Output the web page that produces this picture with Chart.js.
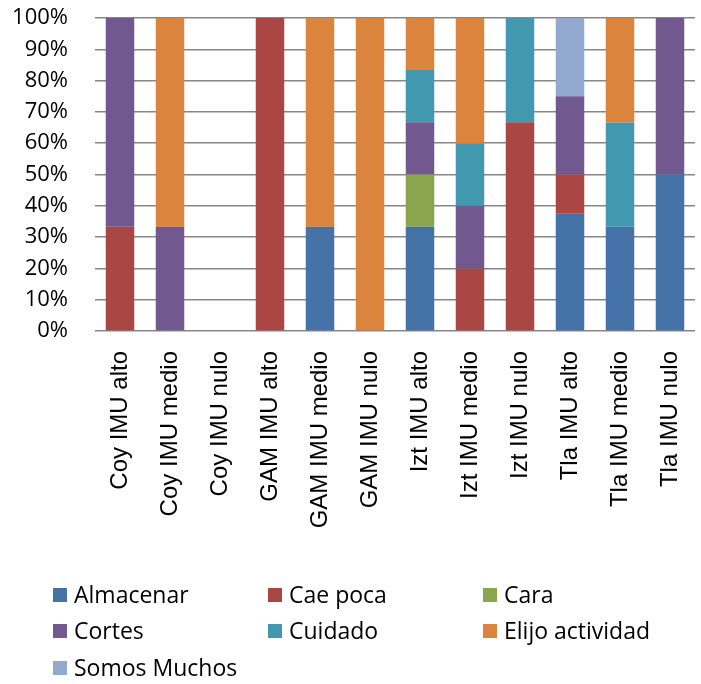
<!DOCTYPE html>
<html>
<head>
<meta charset="utf-8">
<script src="https://cdn.jsdelivr.net/npm/chart.js@4.4.1/dist/chart.umd.min.js"></script>
<style>
html,body{margin:0;padding:0;background:#fff;}
#wrap{width:701px;height:684px;position:relative;}
</style>
</head>
<body>
<div id="wrap"><canvas id="c" width="701" height="684"></canvas></div>
<script>
const categories = ["Coy IMU alto","Coy IMU medio","Coy IMU nulo","GAM IMU alto","GAM IMU medio","GAM IMU nulo","Izt IMU alto","Izt IMU medio","Izt IMU nulo","Tla IMU alto","Tla IMU medio","Tla IMU nulo"];
const yTicks = [0,10,20,30,40,50,60,70,80,90,100];
const almacenar      = [0,    0,    0, 0,   33.3, 0,   33.3, 0,  0,    37.5, 33.3, 50];
const caePoca        = [33.3, 0,    0, 100, 0,    0,   0,    20, 66.7, 12.5, 0,    0];
const cara           = [0,    0,    0, 0,   0,    0,   16.7, 0,  0,    0,    0,    0];
const cortes         = [66.7, 33.3, 0, 0,   0,    0,   16.7, 20, 0,    25,   0,    50];
const cuidado        = [0,    0,    0, 0,   0,    0,   16.7, 20, 33.3, 0,    33.3, 0];
const elijoActividad = [0,    66.7, 0, 0,   66.7, 100, 16.6, 40, 0,    0,    33.4, 0];
const somosMuchos    = [0,    0,    0, 0,   0,    0,   0,    0,  0,    25,   0,    0];

const seriesNames = ["Almacenar","Cae poca","Cara","Cortes","Cuidado","Elijo actividad","Somos Muchos"];
const seriesData = [almacenar, caePoca, cara, cortes, cuidado, elijoActividad, somosMuchos];
const seriesColors = ["#4572A7","#AA4643","#89A54E","#71588F","#4198AF","#DB843D","#93A9CF"];

const legendPlugin = {
  id: 'gridLegend',
  afterDraw(chart) {
    const ctx = chart.ctx;
    ctx.save();
    ctx.font = '23px "Open Sans"';
    ctx.textBaseline = 'middle';
    ctx.textAlign = 'left';
    const colX = [53, 268, 483];
    const rowY = [595, 631, 668];
    chart.data.datasets.forEach((ds, i) => {
      const cx = colX[i % 3], cy = rowY[Math.floor(i / 3)];
      ctx.fillStyle = ds.backgroundColor;
      ctx.fillRect(cx, cy - 7, 14, 14);
      ctx.fillStyle = '#000';
      ctx.fillText(ds.label, cx + 21, cy + 1);
    });
    ctx.restore();
  }
};

new Chart(document.getElementById('c'), {
  type: 'bar',
  data: {
    labels: categories,
    datasets: seriesNames.map((n, i) => ({
      label: n,
      data: seriesData[i],
      backgroundColor: seriesColors[i],
      borderWidth: 0,
      barPercentage: 0.57,
      categoryPercentage: 1.0
    }))
  },
  options: {
    responsive: false,
    animation: false,
    layout: { padding: { top: 18, right: 6, bottom: 100, left: 0 } },
    plugins: { legend: { display: false }, tooltip: { enabled: false } },
    scales: {
      x: {
        stacked: true,
        grid: { display: false, drawTicks: false },
        border: { display: false },
        ticks: {
          minRotation: 90, maxRotation: 90, padding: 20, autoSkip: false,
          color: '#000', font: { family: '"Liberation Sans", Arial, sans-serif', size: 24 }
        },
        afterFit(scale) { scale.height = 253; scale.paddingLeft = 0; scale.paddingRight = 0; scale.paddingTop = 0; scale.paddingBottom = 0; }
      },
      y: {
        stacked: true,
        min: 0, max: 100,
        afterBuildTicks(scale) { scale.ticks = yTicks.map(v => ({ value: v })); },
        grid: { color: '#868686', lineWidth: 1.5, drawTicks: false },
        border: { display: false },
        ticks: {
          padding: 27, color: '#000',
          font: { family: '"Open Sans", sans-serif', size: 22 },
          callback: v => v + '%'
        },
        afterFit(scale) { scale.width = 95; scale.paddingTop = 0; scale.paddingBottom = 0; }
      }
    }
  },
  plugins: [legendPlugin]
});
</script>
</body>
</html>
